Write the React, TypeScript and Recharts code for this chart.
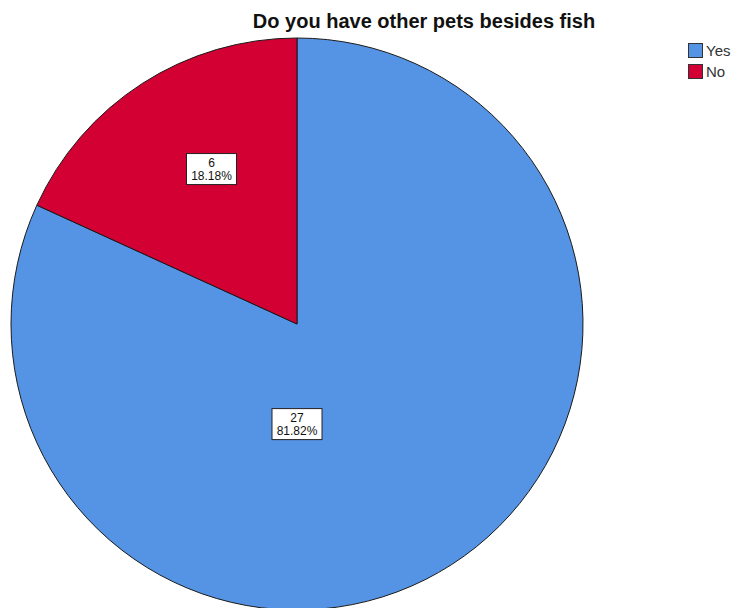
import { PieChart, Pie, Cell, Legend } from 'recharts';

const categories = ['Yes', 'No'];
const counts = [27, 6];
const percents = ['81.82%', '18.18%'];
const colors = ['#5594E5', '#D20033'];

const data = categories.map((name, i) => ({ name, value: counts[i], pct: percents[i] }));

const RADIAN = Math.PI / 180;

const renderLabel = (props: any) => {
  const { cx, cy, midAngle, outerRadius, index, percent } = props;
  let x: number;
  let y: number;
  if (percent > 0.5) {
    x = cx;
    y = cy + outerRadius * 0.35;
  } else {
    x = cx + outerRadius * 0.553 * Math.cos(-midAngle * RADIAN);
    y = cy + outerRadius * 0.644 * Math.sin(-midAngle * RADIAN);
  }
  const w = 50;
  const h = 31;
  return (
    <g>
      <rect x={x - w / 2} y={y - h / 2} width={w} height={h} fill="#ffffff" stroke="#222" strokeWidth={1} />
      <text x={x} y={y - 2} textAnchor="middle" fontSize={12} fill="#111" fontFamily="Arial, 'Liberation Sans', sans-serif">
        {counts[index]}
      </text>
      <text x={x} y={y + 11} textAnchor="middle" fontSize={12} fill="#111" fontFamily="Arial, 'Liberation Sans', sans-serif">
        {percents[index]}
      </text>
    </g>
  );
};

const LegendBox = () => (
  <div style={{ fontFamily: "Arial, 'Liberation Sans', sans-serif", fontSize: 15, color: '#333' }}>
    {categories.map((c, i) => (
      <div key={c} style={{ display: 'flex', alignItems: 'center', height: 21 }}>
        <div style={{ width: 15, height: 15, background: colors[i], border: '1px solid #333', boxSizing: 'border-box', marginRight: 3 }} />
        <span>{c}</span>
      </div>
    ))}
  </div>
);

export default function App() {
  return (
    <div style={{ width: 733, height: 600, position: 'relative', background: '#fff' }}>
      <PieChart width={733} height={600} margin={{ top: 0, right: 0, bottom: 0, left: 0 }}>
        <text x={416} y={20} textAnchor="middle" fontSize={20} fontWeight="bold" fill="#111" fontFamily="Arial, 'Liberation Sans', sans-serif">
          Do you have other pets besides fish
        </text>
        <Pie
          data={data}
          dataKey="value"
          nameKey="name"
          cx={289}
          cy={316}
          outerRadius={286}
          startAngle={90}
          endAngle={-270}
          stroke="#1a1a1a"
          strokeWidth={1}
          label={renderLabel}
          labelLine={false}
          isAnimationActive={false}
        >
          {data.map((d, i) => (
            <Cell key={d.name} fill={colors[i]} />
          ))}
        </Pie>
        <Legend
          layout="vertical"
          align="right"
          verticalAlign="top"
          content={<LegendBox />}
          wrapperStyle={{ left: 680, top: 32, width: 60 }}
        />
      </PieChart>
    </div>
  );
}
